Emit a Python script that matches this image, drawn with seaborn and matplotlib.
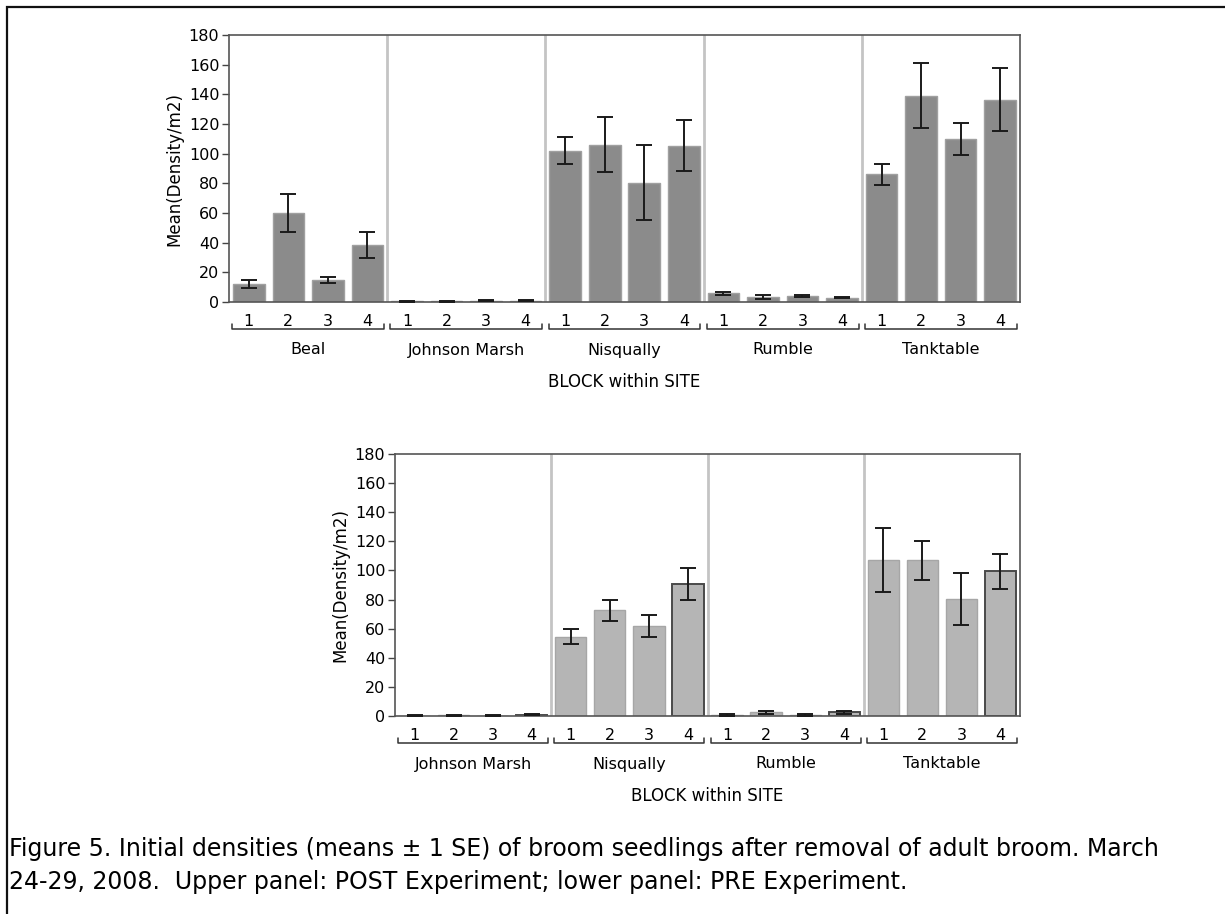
import numpy as np
import pandas as pd
import matplotlib
matplotlib.use("Agg")
import matplotlib.pyplot as plt
from matplotlib.patches import Rectangle
import seaborn as sns

# Data (means and 1 SE)
blocks = ["1", "2", "3", "4"]

post_sites = ["Beal", "Johnson Marsh", "Nisqually", "Rumble", "Tanktable"]
post_mean = [12, 60, 15, 38.5,
             0.5, 0.5, 1, 1,
             102, 106, 80.5, 105.5,
             6, 3.5, 4, 3,
             86, 139, 110, 136.5]
post_se = [2.5, 13, 2, 9,
           0.3, 0.3, 0.5, 0.5,
           9, 18.5, 25.5, 17.5,
           1, 1.5, 0.5, 0.5,
           7, 22, 11, 21]

pre_sites = ["Johnson Marsh", "Nisqually", "Rumble", "Tanktable"]
pre_mean = [0.3, 0.5, 0.3, 1,
            54.5, 72.5, 62, 91,
            0.8, 2.5, 0.8, 2.5,
            107.5, 107, 80.5, 99.5]
pre_se = [0.3, 0.5, 0.3, 0.5,
          5.3, 7, 7.5, 11,
          0.5, 1, 0.5, 1,
          22, 13.5, 18, 12]

yticks = list(range(0, 181, 20))

sns.set_style("white")
plt.rcParams['font.family'] = ['DejaVu Sans']
plt.rcParams['text.color'] = 'black'
plt.rcParams['xtick.color'] = 'black'
plt.rcParams['ytick.color'] = 'black'
plt.rcParams['axes.labelcolor'] = 'black'

W, H = 1225, 914
fig = plt.figure(figsize=(W / 100, H / 100), dpi=100)


def px_axes(x0, y0, x1, y1):
    # pixel box (top-left origin) -> figure fraction axes
    return fig.add_axes([x0 / W, 1 - y1 / H, (x1 - x0) / W, (y1 - y0) / H])


def make_frame(sites, means, ses):
    rows = []
    for i, s in enumerate(sites):
        for j, b in enumerate(blocks):
            k = i * 4 + j
            rows.append({"site": s, "block": b, "key": f"{s}|{b}",
                         "mean": means[k], "se": ses[k]})
    return pd.DataFrame(rows)


def draw_panel(ax, sites, means, ses, face, edge, dark_last):
    df = make_frame(sites, means, ses)
    n = len(df)
    sns.barplot(data=df, x="key", y="mean", color=face, width=0.8,
                saturation=1, edgecolor=edge, linewidth=1.0, ax=ax,
                errorbar=None)
    if dark_last:
        for k, p in enumerate(ax.patches):
            if k % 4 == 3:
                p.set_edgecolor("#4a4a4a")
                p.set_linewidth(1.4)
    ax.errorbar(np.arange(n), df["mean"], yerr=df["se"], fmt="none",
                ecolor="#1a1a1a", elinewidth=1.4, capsize=5.5, capthick=1.4,
                zorder=5)
    # separators between sites
    for i in range(1, len(sites)):
        ax.axvline(i * 4 - 0.5, color="#c4c4c4", lw=2, zorder=0)
    ax.set_xlim(-0.5, n - 0.5)
    ax.set_ylim(0, 180)
    ax.set_yticks(yticks)
    ax.set_xticks(np.arange(n))
    ax.set_xticklabels(df["block"], fontsize=11.5)
    ax.tick_params(axis="x", length=0, pad=9)
    ax.tick_params(axis="y", length=5, width=1, direction="out",
                   labelsize=11.5, pad=2, left=True, color="#444444")
    for sp in ax.spines.values():
        sp.set_color("#555555")
        sp.set_linewidth(1.2)
    ax.set_xlabel("")
    ax.set_ylabel("Mean(Density/m2)", fontsize=12, labelpad=4)

    # brackets and site labels under the blocks
    hpx = ax.get_window_extent().height
    tr = ax.get_xaxis_transform()
    yb = -27 / hpx
    yt = -22 / hpx
    for i, s in enumerate(sites):
        x0, x1 = i * 4 - 0.42, i * 4 + 3.42
        ax.plot([x0, x0, x1, x1], [yt, yb, yb, yt], transform=tr,
                color="#333333", lw=1.1, clip_on=False)
        ax.text(i * 4 + 1.5, -48 / hpx, s, transform=tr, ha="center",
                va="center", fontsize=11.5)
    ax.text(0.5, -80 / hpx, "BLOCK within SITE", transform=ax.transAxes,
            ha="center", va="center", fontsize=12)


ax1 = px_axes(229, 35, 1020, 302)
draw_panel(ax1, post_sites, post_mean, post_se, "#8b8b8b", "#a0a0a0", False)

ax2 = px_axes(395, 454, 1020, 716)
draw_panel(ax2, pre_sites, pre_mean, pre_se, "#b5b5b5", "#a6a6a6", True)

# outer frame (only top and left edges visible in the crop)
fig.patches.append(Rectangle((6.5 / W, -0.2), 2, 1.2 - 6.5 / H,
                             transform=fig.transFigure, fill=False,
                             edgecolor="#111111", lw=1.6))

fig.text(9 / W, 1 - 849 / H,
         "Figure 5. Initial densities (means \u00b1 1 SE) of broom seedlings after removal of adult broom. March",
         fontsize=17, va="center", ha="left")
fig.text(9 / W, 1 - 882 / H,
         "24-29, 2008.  Upper panel: POST Experiment; lower panel: PRE Experiment.",
         fontsize=17, va="center", ha="left")

fig.savefig("out.png", dpi=100)
